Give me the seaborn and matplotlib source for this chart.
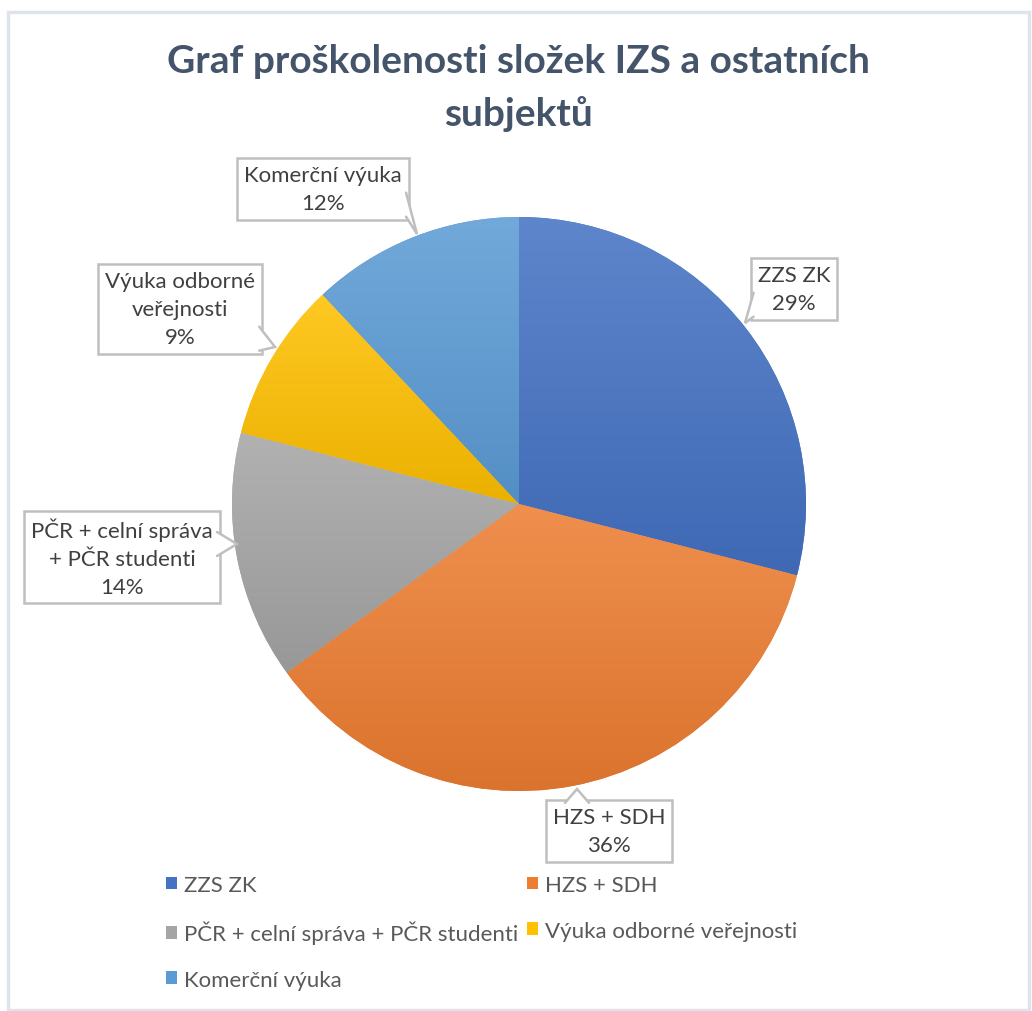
import numpy as np
import matplotlib
matplotlib.use("Agg")
import matplotlib.pyplot as plt
import matplotlib.colors as mcolors
from matplotlib.patches import Rectangle, Patch, Polygon
import seaborn as sns

# data
categories = ["ZZS ZK", "HZS + SDH", "PČR + celní správa + PČR studenti",
              "Výuka odborné veřejnosti", "Komerční výuka"]
shares = [29, 36, 14, 9, 12]
label_texts = ["ZZS ZK\n29%", "HZS + SDH\n36%", "PČR + celní správa\n+ PČR studenti\n14%",
               "Výuka odborné\nveřejnosti\n9%", "Komerční výuka\n12%"]
colors = ["#4472C4", "#ED7D31", "#A5A5A5", "#FFC000", "#5B9BD5"]

sns.set_theme(style="white")
plt.rcParams["font.family"] = ["Lato", "DejaVu Sans"]

W, H = 1032, 1012
fig = plt.figure(figsize=(W / 100, H / 100), dpi=100)
ax = fig.add_axes([0, 0, 1, 1])
ax.set_xlim(0, W)
ax.set_ylim(0, H)

cx, cy, r = 519, H - 505, 287
wedges, _ = ax.pie(shares, colors=colors, startangle=90, counterclock=False,
                   center=(cx, cy), radius=r, wedgeprops=dict(linewidth=0))
ax.set_xlim(0, W)
ax.set_ylim(0, H)
ax.set_aspect("equal")
ax.axis("off")

# excel-like vertical gradient per slice
def shade(c, f):
    rgb = np.array(mcolors.to_rgb(c))
    if f > 0:
        return rgb + (1 - rgb) * f
    return rgb * (1 + f)

for w, c in zip(wedges, colors):
    bb = w.get_path().get_extents(w.get_patch_transform())
    top, bot = shade(c, 0.14), shade(c, -0.08)
    t = np.linspace(0, 1, 256)[:, None]
    img = top[None, :] * (1 - t) + bot[None, :] * t
    im = ax.imshow(img[:, None, :], extent=(bb.x0, bb.x1, bb.y0, bb.y1),
                   aspect="auto", origin="upper", zorder=2)
    im.set_clip_path(w)

# callout labels (pixel positions from top-left)
box_pos = [(794, 290), (609, 832), (122, 558), (180, 310), (323, 190)]
tips = [(745, 324), (577, 790), (237, 545), (275, 348), (417, 235)]
edge_col = "#BFBFBF"
boxes = []
for txt, (bx, by) in zip(label_texts, box_pos):
    tt = ax.text(bx, H - by, txt, ha="center", va="center", fontsize=16, color="#404040",
                 linespacing=1.5, zorder=5,
                 bbox=dict(boxstyle="square,pad=0.3", fc="white", ec=edge_col, lw=1.8))
    boxes.append(tt)

fig.canvas.draw()
inv = ax.transData.inverted()
for tt, (tx, ty) in zip(boxes, tips):
    ext = tt.get_bbox_patch().get_window_extent()
    (x0, y0), (x1, y1) = inv.transform([[ext.x0, ext.y0], [ext.x1, ext.y1]])
    ty = H - ty
    half, inset = 12, 2.5
    if tx < x0 or tx > x1:
        ex = x0 if tx < x0 else x1
        sgn = 1 if tx < x0 else -1
        py = min(max(ty, y0 + half + 3), y1 - half - 3)
        base = [(ex + sgn * inset, py - half), (ex + sgn * inset, py + half)]
    else:
        ey = y0 if ty < y0 else y1
        sgn = 1 if ty < y0 else -1
        px = min(max(tx, x0 + half + 3), x1 - half - 3)
        base = [(px - half, ey + sgn * inset), (px + half, ey + sgn * inset)]
    ax.add_patch(Polygon([base[0], (tx, ty), base[1]], closed=True, fc="white",
                         ec="none", zorder=6))
    ax.plot([base[0][0], tx, base[1][0]], [base[0][1], ty, base[1][1]], color=edge_col,
            lw=1.8, zorder=7, solid_joinstyle="miter")

ax.text(518, H - 88, "Graf proškolenosti složek IZS a ostatních\nsubjektů", ha="center",
        va="center", fontsize=28, fontweight="bold", color="#44546A", linespacing=1.55)

# legend, row-wise order
order = [0, 2, 4, 1, 3]
handles = [Patch(facecolor=colors[i], edgecolor="none") for i in order]
leg = ax.legend(handles, [categories[i] for i in order], ncol=2, loc="upper left",
                bbox_to_anchor=(166 / W, 1 - 876 / H), frameon=False, fontsize=16,
                handlelength=0.5, handleheight=0.5, handletextpad=0.3,
                columnspacing=0.4, labelspacing=1.15, borderaxespad=0, borderpad=0)
for t in leg.get_texts():
    t.set_color("#595959")

ax.add_patch(Rectangle((8, H - 1011), 1021, 998, fill=False, ec="#DFE3EA", lw=2.5, zorder=8))

fig.savefig("out.png", dpi=100)
